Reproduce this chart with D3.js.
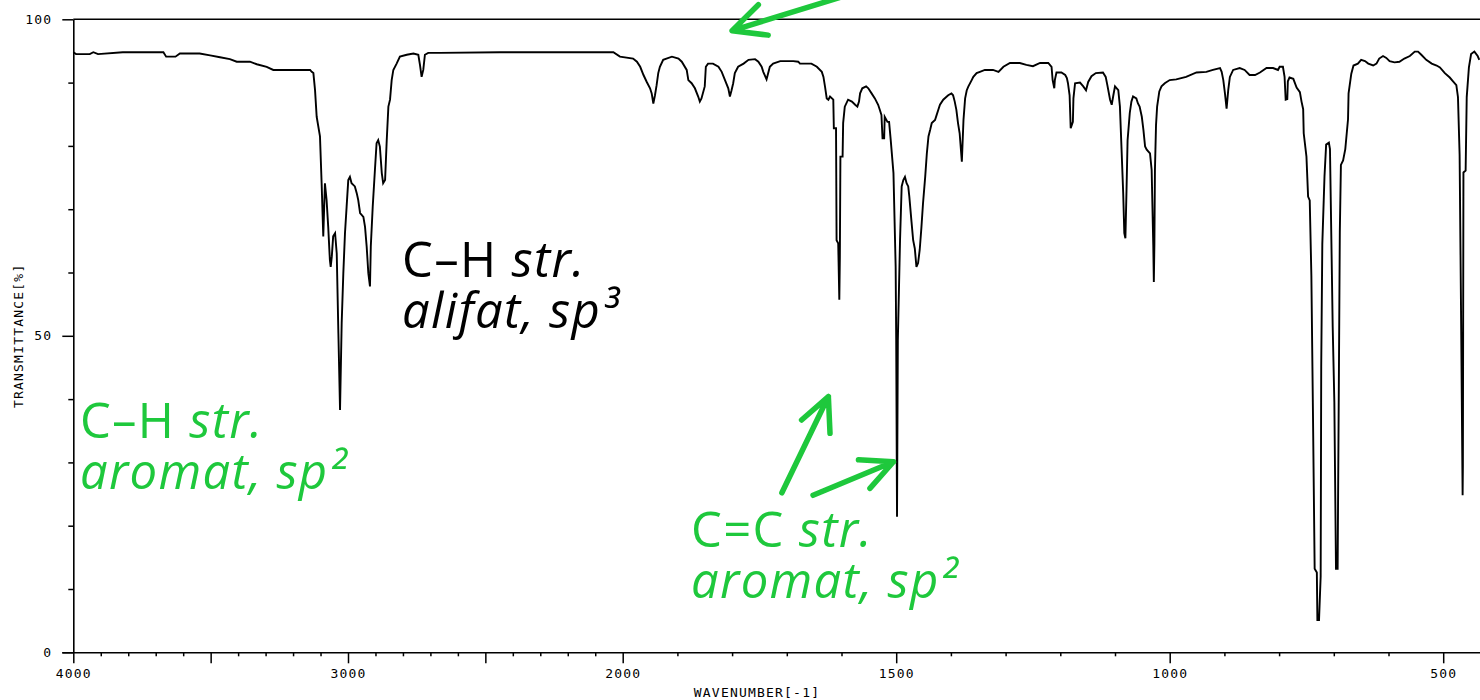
<!DOCTYPE html>
<html><head><meta charset="utf-8">
<script src="https://cdn.jsdelivr.net/npm/d3@7"></script>
<style>
html,body{margin:0;padding:0;background:#fff;}
svg{display:block;}
</style></head>
<body>
<svg id="chart" width="1480" height="700"></svg>
<script>
// ---------------- DATA ----------------
const wavenumbers = [
4000,3990,3940,3927,3910,3820,3672,3662,3628,3612,3540,3502,3466,3430,3405,3357,3332,3296,3272,3138,
3132,3126,3120,3114,3102,3096,3090,3084,3078,3072,3066,3063,3059,3054,3047,3041,3035,3029,3023,3017,
3011,3005,2999,2993,2987,2975,2968,2963,2956,2944,2938,2932,2926,2920,2917,2910,2902,2896,2890,2884,
2877,2872,2865,2859,2853,2847,2841,2835,2823,2811,2786,2762,2744,2738,2732,2726,2720,2708,2665,2447,
2034,2010,1981,1974,1968,1962,1956,1950,1947,1944,1941,1938,1935,1932,1926,1920,1910,1898,1892,1883,
1880,1874,1868,1862,1859,1856,1850,1848,1844,1835,1825,1819,1813,1807,1804,1801,1798,1795,1789,1779,
1770,1758,1752,1746,1743,1737,1734,1731,1725,1712,1688,1679,1676,1655,1645,1636,1633,1630,1627,1624,
1621,1615,1614,1610,1609,1606,1604,1603,1602,1598,1597,1594,1588,1581,1575,1571,1568,1566,1562,1555,
1551,1545,1539,1533,1530,1527,1525,1522,1521,1516,1513,1510,1505,1501,1500,1498.5,1497,1493,1490,1487,
1484,1481,1478,1476,1472,1469,1466,1463,1460,1457,1454,1451,1447,1444,1441,1438,1435,1429,1426,1423,
1420,1414,1405,1399,1396,1393,1390,1387,1384,1380,1377,1374,1371,1368,1362,1359,1353,1347,1338,1323,
1313,1304,1292,1274,1262,1250,1237,1222,1216,1214,1211,1210,1207,1198,1191,1188,1186,1183,1181,1177,
1176,1173,1164,1158,1153,1149,1143,1135,1122,1117,1114,1109,1106,1103,1100,1094,1091,1088,1085,1083,
1081,1079,1077,1073,1070,1067,1061,1058,1055,1051,1048,1045,1042,1036,1033,1030,1029,1028,1027,1025,
1023,1019,1015,1009,1000,988,970,951,933,921,908,905,902,899,896,893,890,884,872,863,
854,844,835,823,811,802,799,793,790,788,785,784,781,774,768,762,759,756,755,750,
747,744,741,738,735,731,730,727,724,723,721,717,714,709,707,705,702,699,696,693,
691,689,687,683,679,674,673,668,664,656,650,643,637,628,622,617,610,604,598,589,
580,571,561,552,546,540,531,521,512,506,497,488,482,476,473,470,467,465,464.5,464,
463,459,457,453,449,443,437,434
];
const transmittance = [
94.8,94.5,94.5,94.8,94.5,94.8,94.8,94.1,94.1,94.6,94.6,94.3,94.0,93.7,93.3,93.3,92.9,92.5,92.0,92.0,
91.7,91.5,88.8,84.6,81.5,74.1,65.7,74.1,71.5,67.2,62.0,60.9,62.5,65.7,66.2,63.0,50.4,38.3,52.0,59.9,
66.2,70.4,74.6,75.1,74.1,73.6,72.5,71.5,69.4,68.8,67.2,64.1,59.9,57.8,64.1,70.4,76.2,80.4,80.9,79.9,
75.7,74.1,74.6,80.9,86.2,87.3,90.4,92.0,93.0,94.1,94.4,94.6,94.4,92.8,90.9,92.0,94.4,94.7,94.7,94.8,
94.8,94.1,93.8,93.3,92.5,91.2,90.1,89.1,88.3,86.7,88.0,89.6,91.5,92.5,93.6,93.8,94.1,93.8,93.3,92.0,
90.4,89.9,89.1,87.8,87.0,87.5,89.4,92.5,93.0,93.0,92.5,91.7,90.4,89.1,87.8,88.8,89.9,91.5,92.5,93.0,
93.6,93.7,93.3,92.5,91.7,90.5,91.5,92.5,93.0,93.4,93.4,93.3,93.0,93.0,92.5,91.7,90.9,89.3,87.5,87.3,
87.8,87.3,82.8,82.8,65.1,64.6,55.7,62.5,78.3,78.3,83.6,86.2,87.3,87.0,86.5,86.2,87.0,88.3,89.1,89.4,
89.1,88.3,87.5,86.5,85.7,84.9,81.2,81.2,84.6,83.8,83.8,80.9,75.7,60.9,49.3,21.4,49.3,65.1,73.6,74.6,
75.1,74.1,73.6,72.0,68.0,65.1,63.8,60.9,61.5,63.6,67.0,70.9,75.1,78.8,81.5,82.5,83.6,84.1,84.9,85.7,
86.5,87.3,88.0,88.3,88.0,87.0,85.7,83.6,82.0,77.5,84.1,87.5,88.8,89.4,90.4,90.9,91.5,91.7,92.0,92.0,
91.7,92.5,93.1,93.1,92.8,92.6,93.1,93.1,92.5,90.4,89.1,90.4,91.6,91.6,91.2,90.7,89.9,88.0,82.8,83.8,
87.5,89.9,90.0,89.4,88.8,90.1,91.0,91.5,91.6,90.9,89.6,87.3,86.5,88.0,89.4,88.8,86.2,79.4,72.5,66.2,
65.4,72.8,80.9,85.2,87.0,87.8,87.5,86.7,86.2,84.6,82.5,79.9,79.4,78.8,76.2,64.1,58.5,64.3,76.2,83.3,
86.2,88.6,89.4,89.9,90.4,90.5,90.9,91.6,91.7,92.0,92.3,91.7,90.4,88.3,85.9,88.8,90.9,92.0,92.3,92.0,
91.2,91.2,91.6,92.3,92.3,92.0,92.5,92.5,90.9,87.3,87.4,90.2,90.8,90.6,89.2,88.5,87.0,85.8,82.0,78.3,
72.0,71.4,59.5,37.0,13.2,12.6,5.1,5.1,12.0,45.1,64.5,75.2,80.2,80.5,79.5,68.3,51.4,39.5,13.2,13.2,
39.5,66.4,77.0,77.7,79.5,84.2,88.3,91.4,92.7,93.0,93.6,93.4,93.0,92.7,93.0,93.8,94.2,93.9,93.4,93.2,
93.3,93.8,94.2,94.9,94.9,94.4,93.6,93.0,92.7,92.4,91.5,90.8,90.2,89.6,87.7,78.6,50.1,29.5,24.8,29.5,
75.8,76.1,87.7,92.4,94.5,94.9,94.2,93.6
];
const xTickValues = [4000,3900,3800,3700,3600,3500,3400,3300,3200,3100,3000,2900,2800,2700,2600,2500,2400,2300,2200,2100,
  2000,1900,1800,1700,1600,1500,1400,1300,1200,1100,1000,900,800,700,600,500];
const xMajorTicks = [4000,3500,3000,2500,2000,1500,1000,500];
const xTickLabels = [4000,3000,2000,1500,1000,500];
const yTickValues = [0,10,20,30,40,50,60,70,80,90,100];
const yTickLabels = [0,50,100];
const xAxisTitle = "WAVENUMBER[-1]";
const yAxisTitle = "TRANSMITTANCE[%]";

// annotations: [wavenumber, transmittance] anchor (left/baseline of first line)
const annotationTexts = [
  {at:[2803, 59.3], color:"#000", lines:[[["C\u2013H ",false],["str.",true]],[["alifat, sp\u00B3",true]]]},
  {at:[3976, 33.9], color:"green", lines:[[["C\u2013H ",false],["str.",true]],[["aromat, sp\u00B2",true]]]},
  {at:[1875, 16.6], color:"green", lines:[[["C=C ",false],["str.",true]],[["aromat, sp\u00B2",true]]]}
];
// arrows: tail, tip, arm1, arm2 in [wavenumber, transmittance]
const annotationArrows = [
  {tail:[1590,103.8], tip:[1800,98.2], a1:[1752,102.3], a2:[1734,97.5]},
  {tail:[1709,25.2], tip:[1624,40.4], a1:[1673,36.7], a2:[1621,34.6]},
  {tail:[1652,24.8], tip:[1505,30.1], a1:[1569,30.4], a2:[1548,25.9]}
];

// ---------------- CHART ----------------
const W = 1480, H = 700;
const svg = d3.select("#chart");
const GREEN = "#1ec83c";
const AXIS_FONT = "'DejaVu Sans Mono', monospace";

const x = d3.scaleLinear().domain([4000, 2000, 400]).range([73.3, 622.7, 1497.9]);
const y = d3.scaleLinear().domain([0, 100]).range([652.3, 19.3]);

// top frame line
svg.append("line")
  .attr("x1", x(4000)).attr("x2", W).attr("y1", y(100)).attr("y2", y(100))
  .attr("stroke", "#000").attr("stroke-width", 1.6);

// y axis
const yAxis = svg.append("g").attr("transform", `translate(${x(4000)},0)`)
  .call(d3.axisLeft(y).tickValues(yTickValues).tickSize(5).tickSizeOuter(0).tickPadding(16)
    .tickFormat(d => yTickLabels.includes(d) ? d : ""));
yAxis.select(".domain").attr("stroke-width", 1.6);
yAxis.selectAll(".tick line").attr("stroke-width", 1.5)
  .attr("x2", d => yTickLabels.includes(d) ? -11 : -5);
yAxis.selectAll(".tick text").attr("font-family", AXIS_FONT).attr("font-size", 13)
  .attr("letter-spacing", 1.2).attr("fill", "#000");

// x axis
const xAxis = svg.append("g").attr("transform", `translate(0,${y(0)})`)
  .call(d3.axisBottom(x).tickValues(xTickValues).tickSize(4).tickSizeOuter(0).tickPadding(12)
    .tickFormat(d => xTickLabels.includes(d) ? d : ""));
xAxis.select(".domain").attr("stroke-width", 1.6).attr("d", `M${x(4000)-11},0.5H${W}`);
xAxis.selectAll(".tick line").attr("stroke-width", 1.5)
  .attr("y2", d => xMajorTicks.includes(d) ? 11 : 4);
xAxis.selectAll(".tick text").attr("font-family", AXIS_FONT).attr("font-size", 13)
  .attr("letter-spacing", 1.2).attr("fill", "#000");

// axis titles
svg.append("text").attr("x", 757).attr("y", 697).attr("text-anchor", "middle")
  .attr("font-family", AXIS_FONT).attr("font-size", 13).attr("letter-spacing", 1.2)
  .text(xAxisTitle);
svg.append("text").attr("transform", `translate(23,${y(50)}) rotate(-90)`).attr("text-anchor", "middle")
  .attr("font-family", AXIS_FONT).attr("font-size", 13).attr("letter-spacing", 1.2)
  .text(yAxisTitle);

// spectrum
const pts = wavenumbers.map((w, i) => [w, transmittance[i]]);
svg.append("path").datum(pts)
  .attr("fill", "none").attr("stroke", "#000").attr("stroke-width", 1.9)
  .attr("stroke-linejoin", "miter")
  .attr("d", d3.line().x(d => x(d[0])).y(d => y(d[1])));

// annotation texts (one text element per line)
annotationTexts.forEach(a => {
  a.lines.forEach((line, li) => {
    const t = svg.append("text")
      .attr("font-family", "'Open Sans', 'Noto Sans', sans-serif")
      .attr("font-size", 49)
      .attr("letter-spacing", 1.3)
      .attr("fill", a.color === "green" ? GREEN : a.color)
      .attr("x", x(a.at[0])).attr("y", y(a.at[1]) + li * 51);
    line.forEach(([s, it]) => {
      t.append("tspan").text(s).attr("font-style", it ? "italic" : "normal");
    });
  });
});

// arrows
annotationArrows.forEach(a => {
  const P = p => [x(p[0]), y(p[1])];
  const path = d3.path();
  const [t0, t1] = P(a.tail), [p0, p1] = P(a.tip), [b0, b1] = P(a.a1), [c0, c1] = P(a.a2);
  path.moveTo(t0, t1); path.lineTo(p0, p1);
  path.moveTo(b0, b1); path.lineTo(p0, p1); path.lineTo(c0, c1);
  svg.append("path").attr("d", path.toString())
    .attr("fill", "none").attr("stroke", GREEN).attr("stroke-width", 5.5)
    .attr("stroke-linecap", "round").attr("stroke-linejoin", "round");
});
</script>
</body></html>
